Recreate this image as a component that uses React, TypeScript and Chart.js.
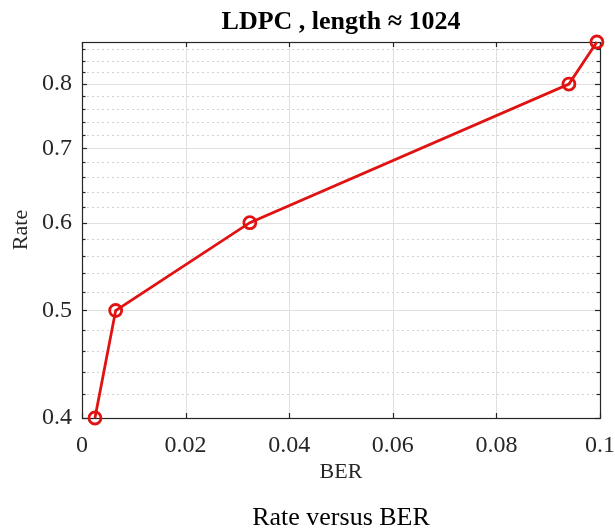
import React, { useEffect, useRef } from "react";
import { Chart, registerables } from "chart.js";

Chart.register(...registerables);

// ---- data ----
const berValues = [0.0025, 0.0065, 0.0324, 0.094, 0.0994];
const rateValues = [0.4, 0.5, 0.6, 0.8, 0.873];
const xTickValues = [0, 0.02, 0.04, 0.06, 0.08, 0.1];
const yMajorTicks = [0.4, 0.5, 0.6, 0.7, 0.8];
const yMinorTicks = [
  0.42, 0.44, 0.46, 0.48, 0.52, 0.54, 0.56, 0.58, 0.62, 0.64, 0.66, 0.68,
  0.72, 0.74, 0.76, 0.78, 0.82, 0.84, 0.86,
];
const chartTitle = "LDPC , length \u2248 1024";
const captionText = "Rate versus BER";
const xAxisLabel = "BER";
const yAxisLabel = "Rate";

const FONT = "'Liberation Serif', 'Times New Roman', serif";
const AXIS_COLOR = "#262626";
const LINE_COLOR = "rgb(225, 18, 18)";

const axesBoxPlugin = {
  id: "axesBox",
  beforeDatasetsDraw(chart: any) {
    const { ctx, chartArea, scales } = chart;
    const { left, right, top, bottom } = chartArea;
    const x = scales.x;
    const y = scales.y;
    const hline = (py: number, x0: number, x1: number) => {
      ctx.beginPath();
      ctx.moveTo(x0, py);
      ctx.lineTo(x1, py);
      ctx.stroke();
    };
    const vline = (px: number, y0: number, y1: number) => {
      ctx.beginPath();
      ctx.moveTo(px, y0);
      ctx.lineTo(px, y1);
      ctx.stroke();
    };
    ctx.save();
    ctx.lineWidth = 1;
    // minor grid (dotted)
    ctx.strokeStyle = "#d2d2d2";
    ctx.setLineDash([2, 3]);
    for (const v of yMinorTicks) {
      const py = Math.round(y.getPixelForValue(v)) + 0.5;
      hline(py, left, right);
    }
    ctx.setLineDash([]);
    // major grid
    ctx.strokeStyle = "#e0e0e0";
    for (const v of yMajorTicks) {
      const py = Math.round(y.getPixelForValue(v)) + 0.5;
      if (py > top + 1 && py < bottom - 1) hline(py, left, right);
    }
    for (const v of xTickValues) {
      const px = Math.round(x.getPixelForValue(v)) + 0.5;
      if (px > left + 1 && px < right - 1) vline(px, top, bottom);
    }
    // box
    ctx.strokeStyle = AXIS_COLOR;
    ctx.lineWidth = 1.2;
    ctx.strokeRect(Math.round(left) + 0.5, Math.round(top) + 0.5, Math.round(right - left), Math.round(bottom - top));
    // tick marks, inward
    const tl = 5;
    for (const v of xTickValues) {
      const px = Math.round(x.getPixelForValue(v)) + 0.5;
      vline(px, bottom, bottom - tl);
      vline(px, top, top + tl);
    }
    for (const v of yMajorTicks.concat(yMinorTicks)) {
      const py = Math.round(y.getPixelForValue(v)) + 0.5;
      const len = yMajorTicks.includes(v) ? tl : 3.5;
      hline(py, left, left + len);
      hline(py, right, right - len);
    }
    ctx.restore();
  },
};

export default function App() {
  const canvasRef = useRef<HTMLCanvasElement | null>(null);

  useEffect(() => {
    if (!canvasRef.current) return;
    const points = berValues.map((b, i) => ({ x: b, y: rateValues[i] }));
    const chart = new Chart(canvasRef.current, {
      type: "line",
      data: {
        datasets: [
          {
            data: points,
            borderColor: LINE_COLOR,
            borderWidth: 2.8,
            pointRadius: 6,
            pointHoverRadius: 6,
            pointBorderWidth: 2.8,
            pointBorderColor: LINE_COLOR,
            pointBackgroundColor: "rgba(0,0,0,0)",
            pointStyle: "circle",
            tension: 0,
            fill: false,
            clip: false as any,
          },
        ],
      },
      options: {
        animation: false,
        responsive: false,
        maintainAspectRatio: false,
        layout: { padding: { left: 0, right: 0, top: 0, bottom: 0 } },
        plugins: {
          legend: { display: false },
          tooltip: { enabled: false },
          title: {
            display: true,
            text: chartTitle,
            color: "#000",
            fullSize: false,
            font: { family: FONT, size: 26, weight: "bold", lineHeight: 1.2 },
            padding: { top: 7, bottom: 3.8 },
          },
          subtitle: {
            display: true,
            position: "bottom",
            text: captionText,
            color: "#000",
            fullSize: false,
            font: { family: FONT, size: 26, weight: "normal", lineHeight: 1 },
            padding: { top: 10, bottom: 0 },
          },
        },
        scales: {
          x: {
            type: "linear",
            min: 0,
            max: 0.1,
            afterBuildTicks: (scale: any) => {
              scale.ticks = xTickValues.map((v) => ({ value: v }));
            },
            afterFit: (scale: any) => {
              scale.height = 77;
              scale.paddingRight = 15;
            },
            grid: { display: false, drawTicks: false },
            border: { display: false },
            ticks: {
              padding: 13,
              color: AXIS_COLOR,
              font: { family: FONT, size: 24, lineHeight: 1.2 },
              maxRotation: 0,
              autoSkip: false,
              callback: (v: any) => String(Number(v)),
            },
            title: {
              display: true,
              text: xAxisLabel,
              color: AXIS_COLOR,
              font: { family: FONT, size: 22, lineHeight: 1.2 },
              padding: { top: 0, bottom: 10 },
            },
          },
          y: {
            type: "logarithmic",
            min: 0.4,
            max: rateValues[rateValues.length - 1],
            afterBuildTicks: (scale: any) => {
              scale.ticks = yMajorTicks.map((v) => ({ value: v }));
            },
            afterFit: (scale: any) => {
              scale.width = 82;
            },
            grid: { display: false, drawTicks: false },
            border: { display: false },
            ticks: {
              padding: 10,
              color: AXIS_COLOR,
              font: { family: FONT, size: 24, lineHeight: 1.2 },
              autoSkip: false,
              callback: (v: any) => String(Number(v)),
            },
            title: {
              display: true,
              text: yAxisLabel,
              color: AXIS_COLOR,
              font: { family: FONT, size: 22, lineHeight: 1.2 },
              padding: { top: 8, bottom: 0 },
            },
          },
        },
      },
      plugins: [axesBoxPlugin],
    });
    return () => chart.destroy();
  }, []);

  return (
    <div style={{ position: "absolute", left: 0, top: 0, width: 615, height: 531, background: "#fff" }}>
      <canvas ref={canvasRef} width={615} height={531} style={{ display: "block" }} />
    </div>
  );
}
